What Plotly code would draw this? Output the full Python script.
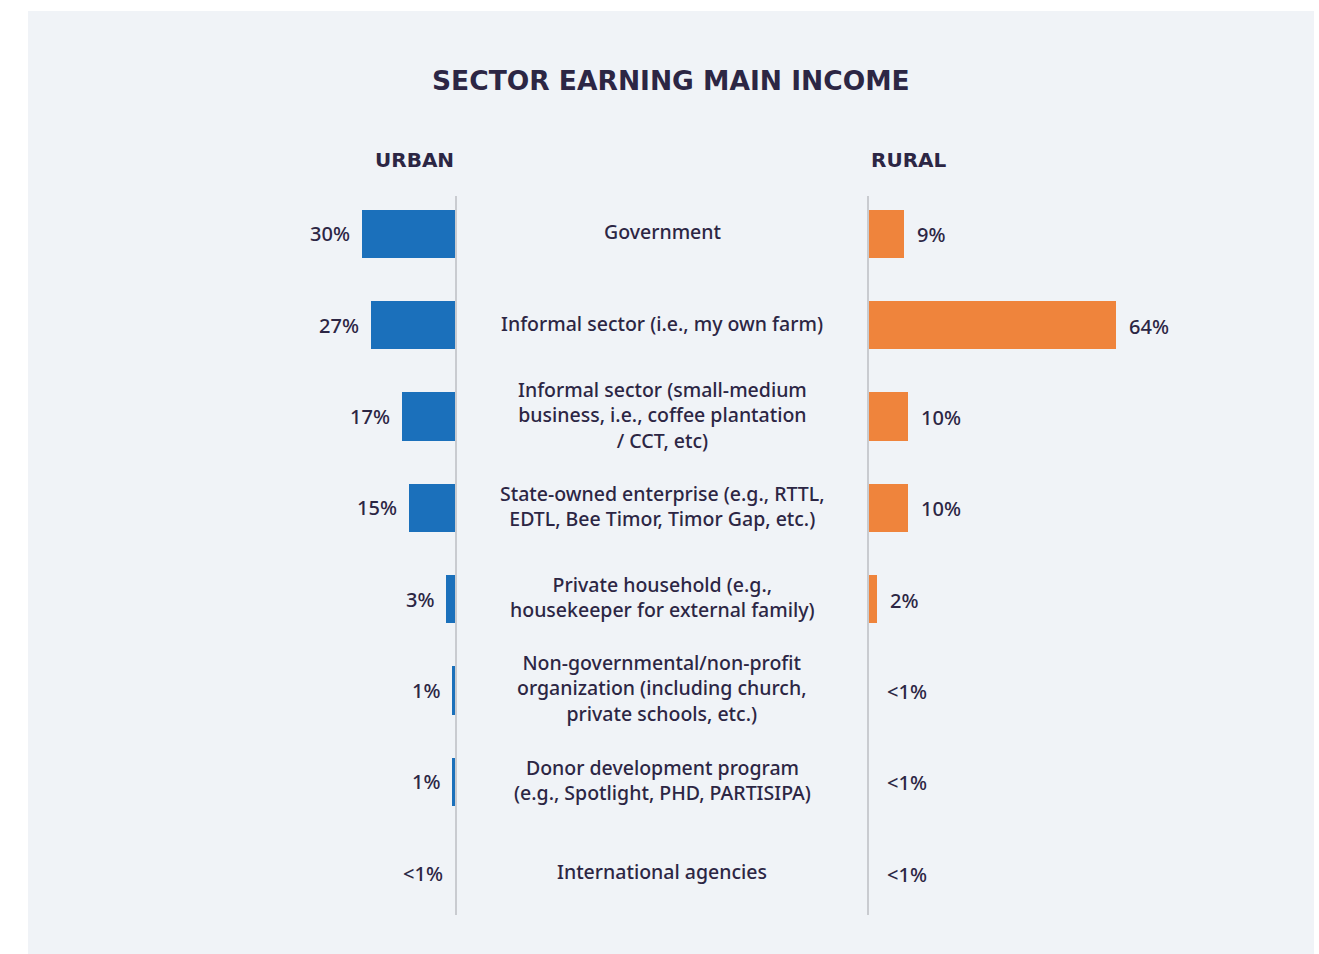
import plotly.graph_objects as go

categories = [
    "Government",
    "Informal sector (i.e., my own farm)",
    "Informal sector (small-medium<br>business, i.e., coffee plantation<br>/ CCT, etc)",
    "State-owned enterprise (e.g., RTTL,<br>EDTL, Bee Timor, Timor Gap, etc.)",
    "Private household (e.g.,<br>housekeeper for external family)",
    "Non-governmental/non-profit<br>organization (including church,<br>private schools, etc.)",
    "Donor development program<br>(e.g., Spotlight, PHD, PARTISIPA)",
    "International agencies",
]
urban = [30, 27, 17, 15, 3, 1, 1, 0]
urban_labels = ["30%", "27%", "17%", "15%", "3%", "1%", "1%", "<1%"]
rural = [9, 64, 10, 10, 2, 0, 0, 0]
rural_labels = ["9%", "64%", "10%", "10%", "2%", "<1%", "<1%", "<1%"]

W, H = 1319, 954
BLUE = "#1b70bb"
ORANGE = "#ef843c"
TXT = "#2c2644"
FONT = "Noto Sans"
TITLE_FONT = "DejaVu Sans"

def px(x):
    return x / W

def py(y):
    return 1 - y / H

idx = list(range(len(categories)))

fig = go.Figure()
fig.add_trace(go.Bar(y=idx, x=urban, orientation="h", marker=dict(color=BLUE, line=dict(width=0)),
                     width=0.53, xaxis="x", yaxis="y", hoverinfo="skip"))
fig.add_trace(go.Bar(y=idx, x=rural, orientation="h", marker=dict(color=ORANGE, line=dict(width=0)),
                     width=0.53, xaxis="x2", yaxis="y2", hoverinfo="skip"))

yr = [7.46, -0.416]
ydom = [py(915), py(196)]
urban_left, urban_zero = 200, 455
rural_zero, rural_right = 869, 1300
u_scale = 3.1
r_scale = 3.86

annotations = []
for i in idx:
    annotations.append(dict(x=urban[i], y=i, xref="x", yref="y", text=urban_labels[i], showarrow=False,
                            xanchor="right", xshift=-10, font=dict(family=FONT, size=20, color=TXT, weight=500)))
    rshift = 11 if rural[i] > 0 else 16
    annotations.append(dict(x=rural[i], y=i, xref="x2", yref="y2", text=rural_labels[i], showarrow=False,
                            xanchor="left", xshift=rshift, yshift=-1, font=dict(family=FONT, size=20, color=TXT, weight=500)))
    annotations.append(dict(x=px(662), y=i, xref="paper", yref="y", text=categories[i], showarrow=False,
                            xanchor="center", yanchor="middle", yshift=2, align="center",
                            font=dict(family=FONT, size=19.5, color=TXT, weight=500)))

annotations.append(dict(x=px(671), y=py(80), xref="paper", yref="paper", text="SECTOR EARNING MAIN INCOME",
                        showarrow=False, xanchor="center", yanchor="middle",
                        font=dict(family=TITLE_FONT, size=26.5, color=TXT, weight=700)))
annotations.append(dict(x=px(456), y=py(160), xref="paper", yref="paper", text="URBAN",
                        showarrow=False, xanchor="right", yanchor="middle",
                        font=dict(family=TITLE_FONT, size=20, color=TXT, weight=700)))
annotations.append(dict(x=px(869), y=py(160), xref="paper", yref="paper", text="RURAL",
                        showarrow=False, xanchor="left", yanchor="middle",
                        font=dict(family=TITLE_FONT, size=20, color=TXT, weight=700)))

fig.update_layout(
    width=W, height=H,
    margin=dict(l=0, r=0, t=0, b=0),
    paper_bgcolor="white",
    plot_bgcolor="rgba(0,0,0,0)",
    showlegend=False,
    bargap=0,
    xaxis=dict(domain=[px(urban_left), px(urban_zero)],
               range=[(urban_zero - urban_left) / u_scale, 0],
               visible=False, fixedrange=True),
    xaxis2=dict(domain=[px(rural_zero), px(rural_right)],
                range=[0, (rural_right - rural_zero) / r_scale],
                visible=False, fixedrange=True),
    yaxis=dict(domain=ydom, range=yr, anchor="x", side="right", showline=True, linecolor="#c9cbd0",
               linewidth=2, showticklabels=False, ticks="", showgrid=False, zeroline=False, fixedrange=True),
    yaxis2=dict(domain=ydom, range=yr, anchor="x2", side="left", showline=True, linecolor="#c9cbd0",
                linewidth=2, showticklabels=False, ticks="", showgrid=False, zeroline=False, fixedrange=True),
    shapes=[dict(type="rect", xref="paper", yref="paper", x0=px(28), x1=px(1314), y0=0, y1=py(11),
                 fillcolor="#f0f3f7", line=dict(width=0), layer="below")],
    annotations=annotations,
)

fig.write_html("out.html", config={"displayModeBar": False},
               post_script="document.body.style.margin='0px';document.body.style.overflow='hidden';")
